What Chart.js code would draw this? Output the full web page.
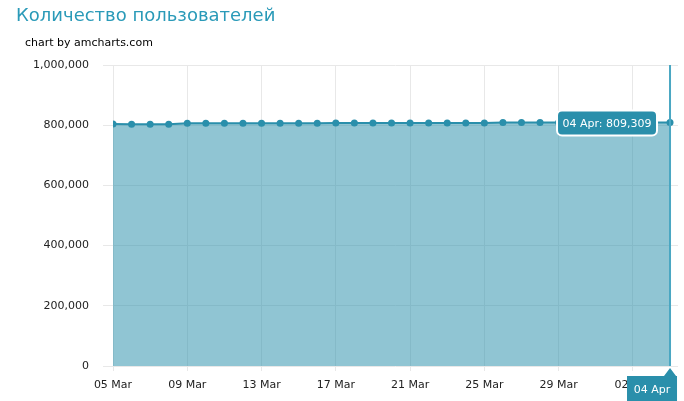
<!DOCTYPE html>
<html>
<head>
<meta charset="utf-8">
<script src="https://cdn.jsdelivr.net/npm/chart.js@4"></script>
<style>
    html, body { margin: 0; padding: 0; background: #fff; }
    #wrap { position: relative; width: 684px; height: 401px; overflow: hidden; }
    #title { position: absolute; left: 16px; top: 4px; font: 18px "DejaVu Sans", Verdana, sans-serif; color: #2a9ab8; white-space: nowrap; }
    #credit { position: absolute; left: 25px; top: 36px; font: 11px "DejaVu Sans", Verdana, sans-serif; color: #000; white-space: nowrap; }
    canvas { position: absolute; left: 0; top: 0; }
</style>
</head>
<body>
<div id="wrap">
    <canvas id="users" width="684" height="401"></canvas>
    <div id="title">Количество пользователей</div>
    <div id="credit">chart by amcharts.com</div>
</div>
<script>
const day_labels = [
    "05 Mar", "06 Mar", "07 Mar", "08 Mar", "09 Mar", "10 Mar", "11 Mar", "12 Mar",
    "13 Mar", "14 Mar", "15 Mar", "16 Mar", "17 Mar", "18 Mar", "19 Mar", "20 Mar",
    "21 Mar", "22 Mar", "23 Mar", "24 Mar", "25 Mar", "26 Mar", "27 Mar", "28 Mar",
    "29 Mar", "30 Mar", "31 Mar", "01 Apr", "02 Apr", "03 Apr", "04 Apr"
];
const user_counts = [
    804000, 803000, 803000, 803500, 806500, 806600, 806600, 806700,
    806700, 806800, 806800, 806800, 806900, 806900, 807000, 807000,
    807000, 807100, 807100, 807200, 807200, 809000, 809000, 809000,
    809100, 809100, 809100, 809200, 809200, 809300, 809309
];
const y_ticks = [0, 200000, 400000, 600000, 800000, 1000000];

const line_colour = "#2a8fab";
const grid_colour = "#e8e8e8";
const font_family = '"DejaVu Sans", Verdana, sans-serif';

const points = user_counts.map((v, i) => ({x: i, y: v}));

// cursor line, balloon and category label on the last point
const cursorPlugin = {
    id: "cursor",
    afterDraw(chart) {
        const ctx = chart.ctx;
        const meta = chart.getDatasetMeta(0);
        const last = meta.data[meta.data.length - 1];
        const area = chart.chartArea;
        const idx = user_counts.length - 1;
        ctx.save();

        ctx.strokeStyle = "#4aa7c3";
        ctx.lineWidth = 2;
        ctx.beginPath();
        ctx.moveTo(last.x, area.top);
        ctx.lineTo(last.x, area.bottom);
        ctx.stroke();

        // balloon
        const text = day_labels[idx] + ": " + user_counts[idx].toLocaleString("en-US");
        ctx.font = "11px " + font_family;
        const bw = 100, bh = 25;
        const bx = last.x - 13 - bw, by = last.y - 12;
        ctx.beginPath();
        ctx.roundRect(bx, by, bw, bh, 5);
        ctx.fillStyle = line_colour;
        ctx.fill();
        ctx.strokeStyle = "#fff";
        ctx.lineWidth = 2;
        ctx.stroke();
        ctx.fillStyle = "#fff";
        ctx.textAlign = "center";
        ctx.textBaseline = "middle";
        ctx.fillText(text, bx + bw / 2, by + bh / 2 + 1);

        // category label under axis
        const lx = last.x + 7, ly = area.bottom + 10;
        const lw = 50, lh = 26;
        ctx.beginPath();
        ctx.moveTo(lx - lw, ly);
        ctx.lineTo(last.x - 6, ly);
        ctx.lineTo(last.x, area.bottom + 2);
        ctx.lineTo(last.x + 6, ly);
        ctx.lineTo(lx, ly);
        ctx.lineTo(lx, ly + lh);
        ctx.lineTo(lx - lw, ly + lh);
        ctx.closePath();
        ctx.fillStyle = line_colour;
        ctx.fill();
        ctx.fillStyle = "#fff";
        ctx.fillText(day_labels[idx], lx - lw / 2, ly + 14);

        ctx.restore();
    }
};

const config = {
    type: "line",
    data: {
        datasets: [{
            data: points,
            borderColor: line_colour,
            backgroundColor: "rgba(42, 143, 171, 0.52)",
            fill: "origin",
            borderWidth: 2,
            pointRadius: 3.5,
            pointBackgroundColor: line_colour,
            pointBorderColor: line_colour,
            pointBorderWidth: 0,
            tension: 0
        }]
    },
    options: {
        responsive: false,
        animation: false,
        layout: {
            padding: {top: 65, right: 6, left: 0, bottom: 0}
        },
        plugins: {
            legend: {display: false},
            tooltip: {enabled: false}
        },
        scales: {
            x: {
                type: "linear",
                min: 0,
                max: 30.43,
                afterBuildTicks: (s) => {
                    s.ticks = [];
                    for (let i = 0; i < day_labels.length; i += 4) s.ticks.push({value: i});
                },
                afterFit: (s) => { s.height = 35; },
                border: {display: false},
                grid: {color: grid_colour, tickLength: 5},
                ticks: {
                    autoSkip: false,
                    maxRotation: 0,
                    padding: 8,
                    color: "#222",
                    font: {family: font_family, size: 11},
                    callback: (v) => day_labels[v]
                }
            },
            y: {
                min: 0,
                max: 1000000,
                afterBuildTicks: (s) => { s.ticks = y_ticks.map(v => ({value: v})); },
                afterFit: (s) => { s.width = 113; },
                border: {display: false},
                grid: {color: grid_colour, tickLength: 10},
                ticks: {
                    padding: 14,
                    color: "#222",
                    font: {family: font_family, size: 11},
                    callback: (v) => Number(v).toLocaleString("en-US")
                }
            }
        }
    },
    plugins: [cursorPlugin]
};

new Chart(document.getElementById("users").getContext("2d"), config);
</script>
</body>
</html>
